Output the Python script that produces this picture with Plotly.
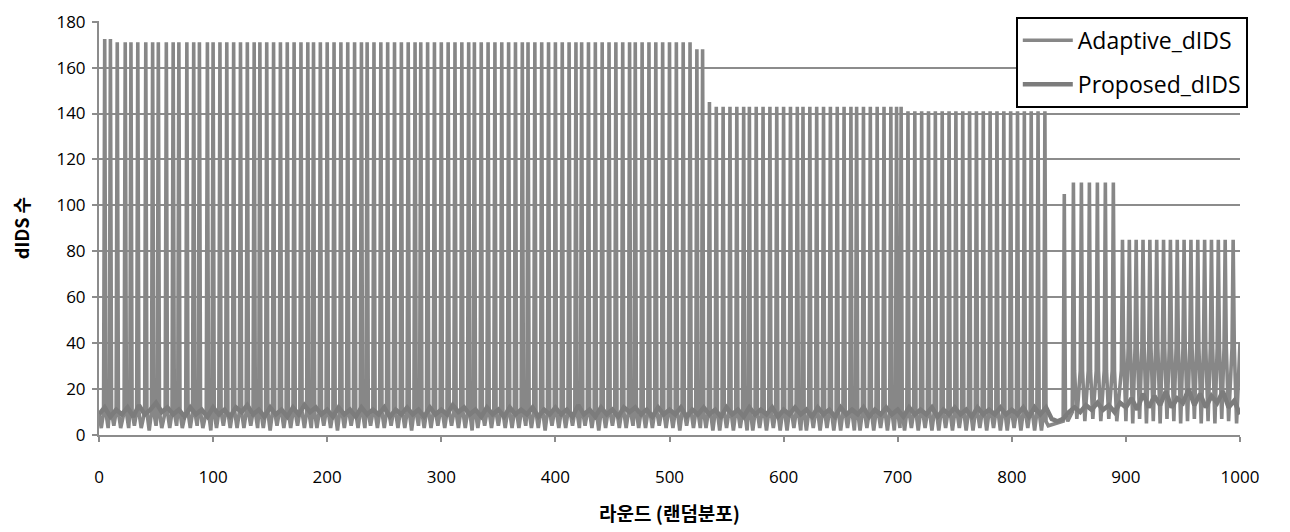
import plotly.graph_objects as go

# ---- data ----
# rounds at which Adaptive_dIDS spikes, and the spike heights
peak_rounds = [
    5, 10, 16, 23, 28, 34, 41, 47, 52, 59, 65, 70, 77, 83, 88, 95, 100, 106, 112, 118,
    124, 130, 136, 141, 147, 153, 159, 165, 171, 177, 183, 188, 194, 200, 206, 212, 218, 224, 230, 235,
    241, 247, 253, 259, 265, 271, 277, 282, 288, 294, 300, 306, 312, 318, 324, 329, 335, 341, 347, 353,
    359, 365, 371, 376, 382, 388, 394, 400, 406, 412, 418, 423, 429, 435, 441, 447, 453, 459, 465, 470,
    476, 482, 488, 494, 500, 506, 512, 518,
    524, 529,
    535,
    541, 547, 553, 559, 565, 570, 576, 582, 588, 594, 600, 606, 612, 617, 623, 629, 635, 641, 647, 653,
    659, 664, 670, 676, 682, 688, 694, 699, 703,
    709, 715, 721, 727, 733, 739, 745, 751, 757, 763, 769, 775, 781, 787, 793, 799, 805, 811, 817, 823,
    829,
    846,
    854, 861, 868, 875, 882, 889,
    897, 903, 909, 915, 921, 927, 933, 939, 945, 951, 957, 963, 969, 975, 981, 987, 994,
]
peak_values = ([172.5, 172.5] + [171] * 86 + [168, 168] + [145] + [143] * 29 + [141] * 21
               + [105] + [110] * 6 + [85] * 17)
# value just after each spike (and just before the next one)
after_values = ([10] * 88 + [10, 10] + [10] + [10] * 29 + [10] * 20 + [6] + [10] + [28] * 6 + [38] * 17)
# lowest value between two spikes
dip_values = [
    3, 4, 3, 3, 4, 3, 2, 4, 3, 3,
    4, 3, 3, 4, 3, 2, 3, 4, 3, 3,
    3, 4, 3, 3, 2, 4, 3, 3, 4, 3,
    3, 3, 4, 3, 2, 3, 4, 3, 3, 4,
    3, 3, 4, 3, 3, 2, 4, 3, 3, 4,
    3, 4, 3, 3, 2, 3, 4, 3, 4, 3,
    3, 3, 4, 3, 3, 2, 4, 3, 3, 4,
    3, 4, 3, 2, 3, 4, 3, 3, 4, 3,
    3, 3, 4, 3, 3, 2, 4, 3,
    3, 3,
    2,
    2, 3, 2, 3, 2, 2, 3, 2, 3, 2, 2, 3, 2, 2, 3, 2, 3, 2, 2, 3, 2, 2, 3, 2, 3, 2, 2, 3, 2,
    3, 2, 3, 2, 2, 3, 2, 3, 2, 2, 3, 2, 3, 2, 2, 3, 2, 3, 2, 2, 4,
    6,
    7, 6, 7, 6, 7, 6,
    6, 5, 7, 5, 6, 5, 7, 6, 5, 6, 7, 5, 6, 5, 7, 6, 5,
]
adaptive_start = [9, 3, 10]
adaptive_end = 40

# Proposed_dIDS, one value every 5 rounds
proposed_rounds = list(range(0, 1001, 5))
proposed_values = [
    9, 12, 8, 11, 9, 12, 8, 13, 9, 11, 14, 10, 12, 9, 11, 8, 12, 9, 11, 8,
    12, 9, 11, 8, 12, 10, 13, 9, 11, 8, 12, 9, 11, 8, 12, 9, 13, 10, 12, 9,
    11, 8, 12, 9, 11, 8, 12, 9, 11, 9, 12, 8, 11, 9, 12, 9, 11, 8, 12, 9,
    11, 9, 13, 10, 12, 9, 11, 8, 12, 9, 11, 8, 12, 9, 11, 9, 12, 8, 11, 9,
    12, 9, 11, 8, 13, 9, 11, 8, 12, 9, 11, 8, 12, 10, 12, 9, 11, 8, 12, 9,
    11, 9, 12, 8, 11, 9, 12, 9, 11, 8, 12, 9, 11, 8, 12, 9, 11, 9, 12, 8,
    11, 9, 12, 9, 11, 8, 12, 9, 11, 8, 12, 9, 11, 9, 12, 8, 11, 9, 12, 9,
    11, 8, 12, 9, 11, 9, 12, 8, 11, 9, 12, 9, 11, 8, 12, 9, 11, 9, 12, 9,
    11, 9, 12, 8, 12, 9, 12, 7, 6, 7, 10, 12, 10, 13, 11, 14, 11, 13, 10, 14,
    12, 16, 11, 18, 12, 17, 13, 19, 12, 16, 14, 20, 13, 18, 12, 17, 14, 19, 12, 15, 9,
]

x_ticks = [0, 100, 200, 300, 400, 500, 600, 700, 800, 900, 1000]
y_ticks = [0, 20, 40, 60, 80, 100, 120, 140, 160, 180]

# ---- build Adaptive vertex list from the per-cycle values ----
ax = [0, 2, 4]
ay = list(adaptive_start)
n = len(peak_rounds)
for i, p in enumerate(peak_rounds):
    ax.append(p); ay.append(peak_values[i])
    nxt = peak_rounds[i + 1] if i + 1 < n else None
    ax += [p + 1, p + 3]
    ay += [after_values[i], dip_values[i]]
    if nxt is not None and nxt - 1 > p + 3:
        ax.append(nxt - 1); ay.append(after_values[i])
ax.append(1000); ay.append(adaptive_end)

FONT = "Open Sans"
fig = go.Figure()
fig.add_trace(go.Scatter(x=ax, y=ay, mode="lines", name="Adaptive_dIDS", legendgroup="a",
                         line=dict(color="#878787", width=3.6)))
fig.add_trace(go.Scatter(x=proposed_rounds, y=proposed_values, mode="lines", name="Proposed_dIDS",
                         legendgroup="p", line=dict(color="#7c7c7c", width=4.5)))

# the page body adds an 8px offset, so the figure is 8px smaller than the window
fig.update_layout(
    width=1282, height=524,
    margin=dict(l=91, r=50, t=9, b=97),
    paper_bgcolor="white", plot_bgcolor="white",
    font=dict(family=FONT, size=17, color="#000000"),
    showlegend=True,
    legend=dict(x=0.8035, y=1.01, xanchor="left", yanchor="top",
                bgcolor="white", bordercolor="#000000", borderwidth=2,
                font=dict(family=FONT, size=23, color="#000000"),
                itemwidth=50, tracegroupgap=11),
    xaxis=dict(range=[0, 1000], tickvals=x_ticks, ticktext=[str(v) for v in x_ticks],
               showgrid=False, zeroline=False, showline=True, linecolor="#8c8c8c", linewidth=2,
               ticks="outside", ticklen=5, tickcolor="#8c8c8c", tickwidth=2, automargin=False,
               tickfont=dict(family=FONT, size=17), ticklabelstandoff=21,
               title=dict(text="<b>라운드 (랜덤분포)</b>", standoff=20,
                          font=dict(family="Noto Sans CJK KR", size=19))),
    yaxis=dict(range=[0, 180.3], tickvals=y_ticks, automargin=False, ticklabeloverflow="allow",
               showgrid=True, gridcolor="#8c8c8c", gridwidth=2,
               zeroline=False, showline=True, linecolor="#8c8c8c", linewidth=2,
               ticks="outside", ticklen=5, tickcolor="#8c8c8c", tickwidth=2,
               tickfont=dict(family=FONT, size=17), ticklabelstandoff=3,
               title=dict(text="<b>dIDS 수</b>", standoff=26,
                          font=dict(family="Noto Sans CJK KR", size=18))),
)

fig.write_html("out.html")
